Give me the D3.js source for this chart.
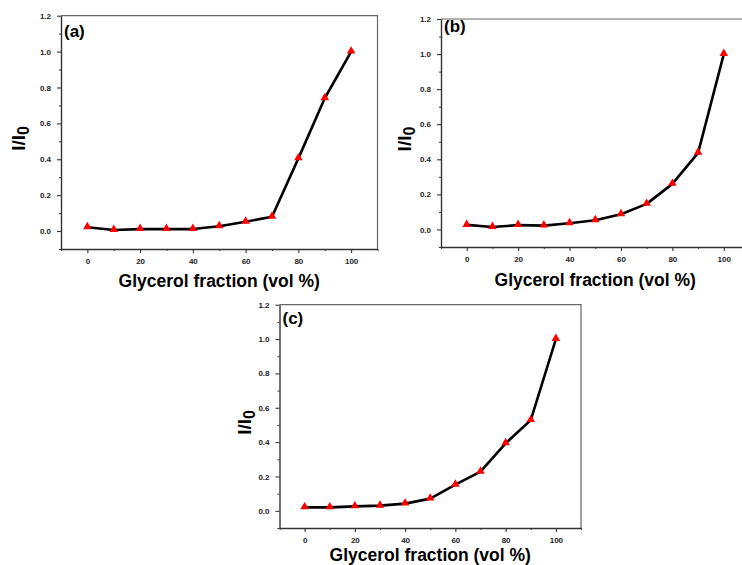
<!DOCTYPE html>
<html>
<head>
<meta charset="utf-8">
<script src="https://cdn.jsdelivr.net/npm/d3@7"></script>
<style>
  body { margin: 0; background: #fff; }
  svg { display: block; font-family: "Liberation Sans", Arial, sans-serif; }
  .tick text { font-size: 8px; font-weight: bold; fill: #222; }
</style>
</head>
<body>
<div id="chart"></div>
<script>
// glycerol fraction (vol %) and relative intensity I/I0 for each panel
const fractions = [0, 10, 20, 30, 40, 50, 60, 70, 80, 90, 100];
const seriesA = [0.021, 0.006, 0.011, 0.011, 0.011, 0.027, 0.052, 0.08, 0.405, 0.74, 1.0];
const seriesB = [0.026, 0.014, 0.025, 0.022, 0.035, 0.053, 0.087, 0.146, 0.26, 0.437, 1.0];
const seriesC = [0.02, 0.02, 0.026, 0.03, 0.042, 0.071, 0.152, 0.228, 0.393, 0.528, 1.0];
const panelLabels = ["(a)", "(b)", "(c)"];

const xTicks = [0, 20, 40, 60, 80, 100];
const xMinor = [-10, 10, 30, 50, 70, 90, 110];
const yTicks = [0, 0.2, 0.4, 0.6, 0.8, 1.0, 1.2];
const yMinor = [-0.1, 0.1, 0.3, 0.5, 0.7, 0.9, 1.1];

const width = 742, height = 565;

// frame of each panel in pixels
const panels = [
  { values: seriesA, left: 61, right: 377.5, top: 15.7, bottom: 249, yLabX: 25, labDy: 21, titleY: 287 },
  { values: seriesB, left: 441, right: 749.5, top: 19, bottom: 247, yLabX: 411, labDy: 13, titleY: 286 },
  { values: seriesC, left: 279.5, right: 581, top: 304.7, bottom: 528, yLabX: 251, labDy: 19, titleY: 560.5 }
];

const svg = d3.select("#chart")
  .append("svg")
  .attr("width", width)
  .attr("height", height);

panels.forEach((p, i) => {
  const x = d3.scaleLinear().domain([-10, 110]).range([p.left, p.right]);
  const y = d3.scaleLinear().domain([-0.1, 1.2]).range([p.bottom, p.top]);
  const g = svg.append("g");

  // top and right frame
  g.append("path")
    .attr("d", `M${p.left},${p.top}H${p.right}V${p.bottom}`)
    .attr("fill", "none")
    .attr("stroke", "#666")
    .attr("stroke-width", 1.2);

  // minor ticks
  g.append("g")
    .attr("transform", `translate(0,${p.bottom})`)
    .call(d3.axisBottom(x).tickValues(xMinor).tickSize(2).tickFormat(""))
    .call((a) => a.select(".domain").remove());
  g.append("g")
    .attr("transform", `translate(${p.left},0)`)
    .call(d3.axisLeft(y).tickValues(yMinor).tickSize(2).tickFormat(""))
    .call((a) => a.select(".domain").remove());

  // major axes
  const xAxis = g.append("g")
    .attr("transform", `translate(0,${p.bottom})`)
    .call(d3.axisBottom(x).tickValues(xTicks).tickSize(4).tickPadding(5).tickSizeOuter(0));
  const yAxis = g.append("g")
    .attr("transform", `translate(${p.left},0)`)
    .call(d3.axisLeft(y).tickValues(yTicks).tickSize(4).tickPadding(6).tickSizeOuter(0)
      .tickFormat(d3.format(".1f")));
  [xAxis, yAxis].forEach((a) => {
    a.select(".domain").attr("stroke", "#333").attr("stroke-width", 1.4);
    a.selectAll(".tick line").attr("stroke-width", 1.1);
  });
  g.selectAll(".tick line").attr("stroke", "#333");

  // data line and markers
  const pts = fractions.map((f, k) => [f, p.values[k]]);
  g.append("path")
    .datum(pts)
    .attr("fill", "none")
    .attr("stroke", "#000")
    .attr("stroke-width", 2.6)
    .attr("stroke-linejoin", "round")
    .attr("d", d3.line().x((d) => x(d[0])).y((d) => y(d[1])));

  g.selectAll(".marker")
    .data(pts)
    .enter()
    .append("path")
    .attr("class", "marker")
    .attr("transform", (d) => `translate(${x(d[0])},${y(d[1]) - 0.5})`)
    .attr("d", d3.symbol().type(d3.symbolTriangle).size(32))
    .attr("fill", "#f00");

  // panel label
  g.append("text")
    .attr("x", p.left + 3)
    .attr("y", p.top + p.labDy)
    .attr("font-size", 17)
    .attr("font-weight", "bold")
    .text(panelLabels[i]);

  // axis titles
  g.append("text")
    .attr("x", (p.left + p.right) / 2)
    .attr("y", p.titleY)
    .attr("text-anchor", "middle")
    .attr("font-size", 17.5)
    .attr("font-weight", "bold")
    .text("Glycerol fraction (vol %)");

  const cy = (p.top + p.bottom) / 2 + 6;
  const yl = g.append("text")
    .attr("transform", `translate(${p.yLabX},${cy}) rotate(-90)`)
    .attr("text-anchor", "middle")
    .attr("font-size", 19)
    .attr("font-weight", "bold");
  yl.append("tspan").text("I/I");
  yl.append("tspan").attr("dy", 4).attr("font-size", 16).text("0");
});
</script>
</body>
</html>
